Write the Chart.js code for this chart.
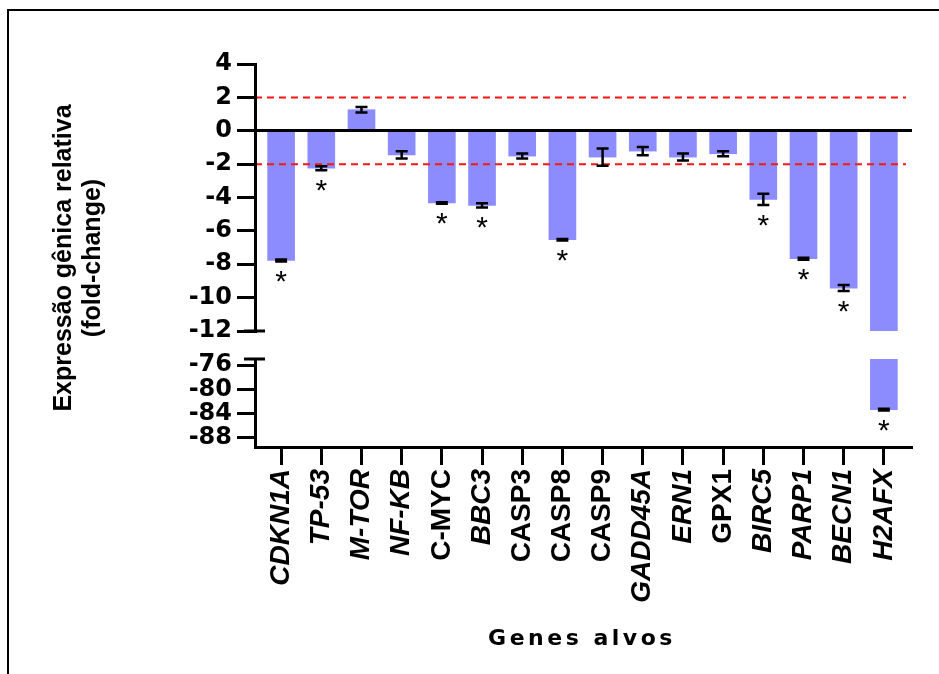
<!DOCTYPE html>
<html>
<head>
<meta charset="utf-8">
<title>Expressão gênica relativa</title>
<script src="https://cdn.jsdelivr.net/npm/chart.js@4.4.1/dist/chart.umd.min.js"></script>
<style>
html, body { margin: 0; padding: 0; background: #fff; }
#wrap { position: relative; width: 939px; height: 674px; overflow: hidden; background: #fff; }
#frame { position: absolute; left: 7px; top: 9px; width: 1000px; height: 1000px; border-top: 2px solid #000; border-left: 2px solid #000; }
canvas { position: absolute; left: 0; }
#topChart { top: 0; }
#botChart { top: 330px; }
#yTitle {
    position: absolute; left: -123px; top: 229px; width: 400px; height: 58px;
    transform: rotate(-90deg); text-align: center; color: #000;
    font: bold 25px/29px "Liberation Sans", Arial, sans-serif;
}
#xTitle {
    position: absolute; left: 382px; top: 627px; width: 400px; text-align: center; color: #000;
    font: bold 22px/22px "DejaVu Sans", sans-serif; letter-spacing: 3.5px;
}
</style>
</head>
<body>
<div id="wrap">
  <div id="frame"></div>
  <canvas id="topChart" width="939" height="360"></canvas>
  <canvas id="botChart" width="939" height="344"></canvas>
  <div id="yTitle">Expressão gênica relativa<br>(fold-change)</div>
  <div id="xTitle">Genes alvos</div>
</div>

<script>
const genes = ['CDKN1A', 'TP-53', 'M-TOR', 'NF-KB', 'C-MYC', 'BBC3', 'CASP3', 'CASP8',
               'CASP9', 'GADD45A', 'ERN1', 'GPX1', 'BIRC5', 'PARP1', 'BECN1', 'H2AFX'];
const italicName = [true, true, true, true, false, true, false, false,
                    false, true, true, false, true, true, true, true];
const foldChange = [-7.77, -2.24, 1.26, -1.45, -4.33, -4.47, -1.52, -6.53,
                    -1.58, -1.22, -1.58, -1.38, -4.11, -7.67, -9.43, -83.35];
const errBar = [0.06, 0.12, 0.16, 0.22, 0.04, 0.13, 0.15, 0.05,
                0.52, 0.25, 0.21, 0.15, 0.34, 0.06, 0.18, 0.15];
const significant = [true, true, false, false, true, true, false, true,
                     false, false, false, false, true, true, true, true];
const thresholds = [2, -2];
const upperTicks = [4, 2, 0, -2, -4, -6, -8, -10, -12];
const lowerTicks = [-76, -80, -84, -88];

const BAR_COLOR = '#8c8cff';
const tickFont = { family: "'DejaVu Sans', sans-serif", weight: 'bold', size: 24 };

// ===== ERROR BARS, STARS, THRESHOLDS, AXIS BREAK =====
const markers = {
    id: 'markers',
    afterDatasetsDraw(chart, args, opts) {
        const { ctx, chartArea: a, scales: { x, y } } = chart;
        ctx.save();

        if (opts.thresholds) {
            ctx.strokeStyle = '#ff1414';
            ctx.lineWidth = 2;
            ctx.setLineDash([7, 5]);
            thresholds.forEach(t => {
                const py = y.getPixelForValue(t);
                ctx.beginPath(); ctx.moveTo(a.left, py); ctx.lineTo(a.right - 6, py); ctx.stroke();
            });
            ctx.setLineDash([]);
        }

        ctx.strokeStyle = '#000';
        ctx.fillStyle = '#000';
        ctx.lineWidth = 2.5;
        ctx.font = "30px 'Liberation Sans', Arial, sans-serif";
        ctx.textAlign = 'center';
        ctx.textBaseline = 'alphabetic';
        foldChange.forEach((v, i) => {
            if (v < y.min || v > y.max) return;
            const px = x.getPixelForValue(i);
            const hi = y.getPixelForValue(v + errBar[i]);
            const lo = y.getPixelForValue(v - errBar[i]);
            ctx.beginPath();
            ctx.moveTo(px, hi); ctx.lineTo(px, lo);
            ctx.moveTo(px - 6, hi); ctx.lineTo(px + 6, hi);
            ctx.moveTo(px - 6, lo); ctx.lineTo(px + 6, lo);
            ctx.stroke();
            if (significant[i]) ctx.fillText('*', px, lo + 29.5);
        });

        // axis break cap
        const yy = opts.breakAt === 'top' ? a.top : a.bottom;
        ctx.lineWidth = 3;
        ctx.beginPath(); ctx.moveTo(a.left - 11, yy); ctx.lineTo(a.left + 10, yy); ctx.stroke();
        ctx.restore();
    }
};

function barData() {
    return {
        datasets: [{
            data: genes.map((g, i) => ({ x: i, y: foldChange[i] })),
            backgroundColor: BAR_COLOR,
            barThickness: 27,
            clip: 0
        }]
    };
}

function yAxis(min, max, tickValues, zeroLine) {
    return {
        min, max,
        afterBuildTicks: s => { s.ticks = tickValues.map(v => ({ value: v })); },
        afterFit: s => { s.width = 255; },
        grid: {
            drawOnChartArea: zeroLine,
            color: c => (zeroLine && c.tick && c.tick.value === 0) ? '#000' : 'rgba(0,0,0,0)',
            lineWidth: 3,
            tickColor: '#000',
            tickWidth: 3,
            tickLength: 18,
            z: 1
        },
        border: { color: '#000', width: 3, z: 2 },
        ticks: { color: '#000', padding: 5, autoSkip: false, font: tickFont }
    };
}

// ===== UPPER PANEL (4 .. -12) =====
new Chart(document.getElementById('topChart'), {
    type: 'bar',
    data: barData(),
    options: {
        responsive: false,
        animation: false,
        layout: { padding: { top: 64, right: 27, bottom: 29, left: 0 } },
        plugins: {
            legend: { display: false },
            tooltip: { enabled: false },
            markers: { thresholds: true, breakAt: 'bottom' }
        },
        scales: {
            x: { type: 'linear', min: -0.65, max: 15.7, offset: false, grid: { offset: false }, display: false },
            y: yAxis(-12, 4, upperTicks, true)
        }
    },
    plugins: [markers]
});

// ===== LOWER PANEL (-75 .. -89.5) =====
new Chart(document.getElementById('botChart'), {
    type: 'bar',
    data: barData(),
    options: {
        responsive: false,
        animation: false,
        layout: { padding: { top: 29, right: 27, bottom: 0, left: 0 } },
        plugins: {
            legend: { display: false },
            tooltip: { enabled: false },
            markers: { thresholds: false, breakAt: 'top' }
        },
        scales: {
            x: {
                type: 'linear', min: -0.65, max: 15.7, offset: false,
                afterBuildTicks: s => { s.ticks = genes.map((g, i) => ({ value: i })); },
                afterFit: s => { s.height = 227; },
                grid: { offset: false, drawOnChartArea: false, tickColor: '#000', tickWidth: 3, tickLength: 18 },
                border: { color: '#000', width: 3 },
                ticks: {
                    autoSkip: false,
                    minRotation: 90,
                    maxRotation: 90,
                    padding: 4,
                    color: '#000',
                    callback: v => genes[v],
                    font: c => ({
                        family: "'Liberation Sans', Arial, sans-serif",
                        weight: 'bold',
                        size: 28,
                        style: italicName[c.index] ? 'italic' : 'normal'
                    })
                }
            },
            y: yAxis(-89.5, -75, lowerTicks, false)
        }
    },
    plugins: [markers]
});
</script>
</body>
</html>
